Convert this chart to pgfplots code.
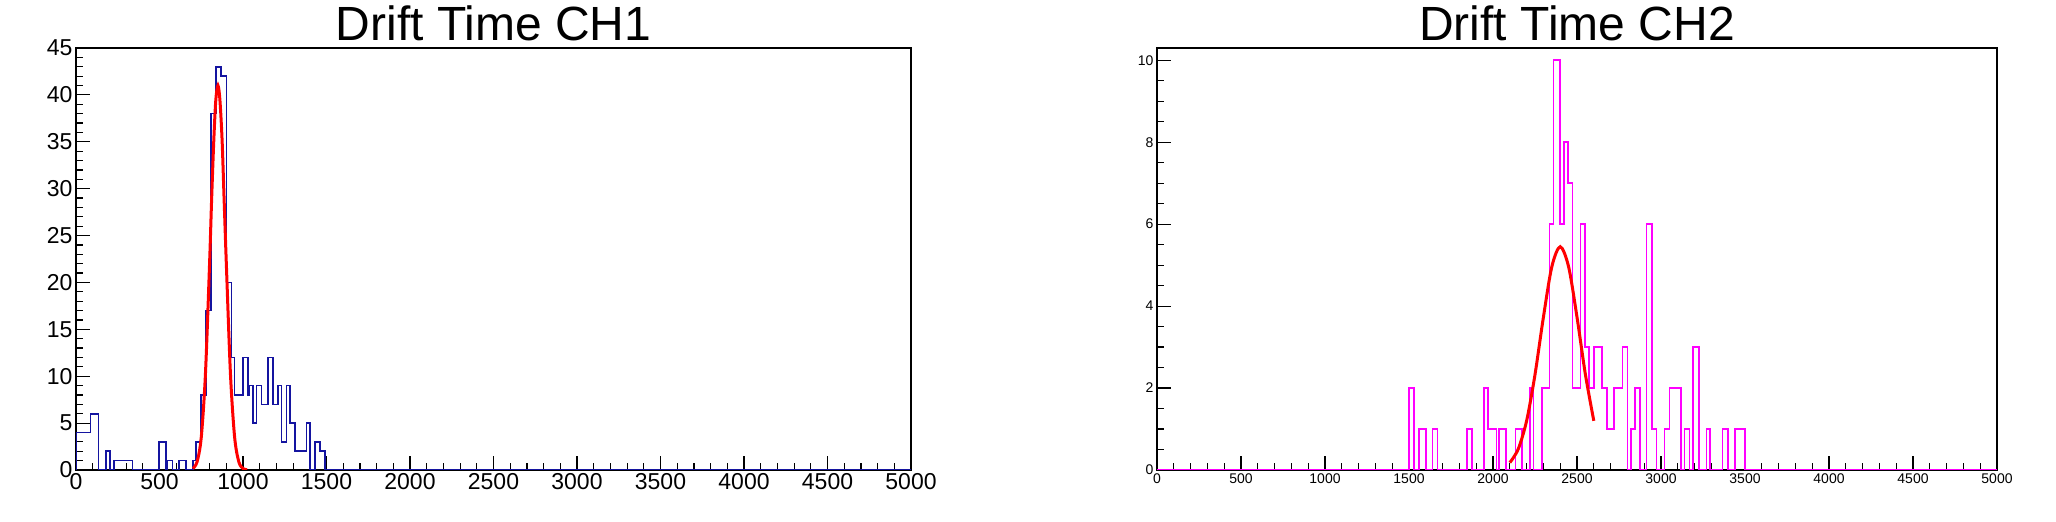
\documentclass[border=0pt]{standalone}
\usepackage{pgfplots}
\pgfplotsset{compat=1.18}
\usepackage{fontspec}
\setmainfont{Liberation Sans}
\definecolor{hblue}{RGB}{20,20,160}
\definecolor{hmag}{RGB}{255,0,255}
\pgfplotsset{rootstyle/.style={
  scale only axis, axis line style={line width=1.3pt},
  tick align=inside, xtick pos=bottom, ytick pos=left,
  major tick length=14pt, minor tick length=7pt,
  every tick/.style={line width=1.2pt,black},
  xmin=0, xmax=5000, ymin=0,
  xtick={0,500,...,5000}, minor x tick num=4,
  /pgf/number format/assume math mode=true,
  /pgf/number format/set thousands separator={},
  scaled ticks=false,
  title style={at={(0.5,1)},anchor=base,yshift=1pt,font=\fontsize{48}{50}\selectfont},
}}
\begin{document}
\begin{tikzpicture}[x=1pt,y=1pt]
\useasboundingbox (0,0) rectangle (2056,522);
\begin{axis}[rootstyle, at={(76pt,52pt)}, anchor=south west, width=835pt, height=422pt,
  ymax=45, ytick={0,5,...,45}, minor y tick num=4,
  tick label style={font=\fontsize{23}{24}\selectfont},
  title={Drift Time CH1}]
\addplot[const plot, color=hblue, line width=1.6pt] coordinates {
(0,0)(0,4)(31,4)(62,4)(88,6)(134,0)(178,2)(204,0)(228,1)(338,0)(498,3)(538,0)(548,1)(578,0)(618,1)(658,0)(700,1)(720,3)(750,8)(780,17)(810,38)(840,43)(870,42)(900,20)(930,12)(950,8)(1000,12)(1030,8)(1040,9)(1060,5)(1080,9)(1110,7)(1150,12)(1180,7)(1210,9)(1230,3)(1260,9)(1280,5)(1310,2)(1380,5)(1400,0)(1430,3)(1460,2)(1490,0)(5000,0)};
\addplot[smooth, red, line width=3pt] coordinates {
(700,0.16)(725,0.87)(750,3.47)(775,10.2)(800,22.1)(812,28.8)(825,35.1)(837,39.4)(850,41)(862,39.4)(875,35.1)(887,28.8)(900,22.1)(925,10.2)(950,3.47)(975,0.87)(1000,0.16)(1025,0.02)};
\end{axis}
\begin{axis}[rootstyle, at={(1157pt,52pt)}, anchor=south west, width=840pt, height=422pt,
  ymax=10.3, ytick={0,2,...,10}, minor y tick num=3,
  tick label style={font=\fontsize{14}{15}\selectfont},
  title={Drift Time CH2}]
\addplot[const plot, color=hmag, line width=1.6pt] coordinates {
(0,0)(1500,2)(1531,0)(1560,1)(1600,0)(1640,1)(1670,0)(1846,1)(1874,0)(1946,2)(1970,1)(2020,0)(2036,1)(2076,0)(2134,1)(2174,0)(2220,2)(2240,0)(2290,2)(2336,6)(2361,10)(2400,6)(2421,8)(2447,7)(2473,2)(2520,6)(2546,3)(2570,2)(2600,3)(2650,2)(2680,1)(2720,2)(2770,3)(2800,0)(2820,1)(2846,2)(2874,0)(2914,6)(2946,1)(2974,0)(3020,1)(3050,2)(3120,0)(3140,1)(3170,0)(3190,3)(3226,0)(3270,1)(3290,0)(3366,1)(3400,0)(3440,1)(3500,0)(5000,0)};
\addplot[smooth, red, line width=3pt] coordinates {
(2100,0.18)(2150,0.51)(2200,1.20)(2250,2.33)(2300,3.73)(2350,4.96)(2400,5.45)(2450,4.96)(2500,3.73)(2550,2.33)(2600,1.20)};
\end{axis}
\end{tikzpicture}
\end{document}
